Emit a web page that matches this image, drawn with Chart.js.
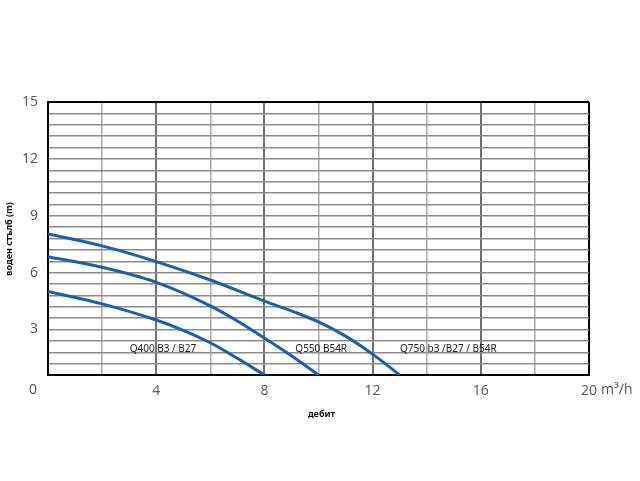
<!DOCTYPE html>
<html lang="bg">
<head>
<meta charset="UTF-8">
<title>Pump curves</title>
<script src="https://cdn.jsdelivr.net/npm/chart.js"></script>
<style>
    * {
        padding: 0;
        margin: 0;
    }
    body {
        background-color: #ffffff;
    }
</style>
</head>
<body>
<canvas id="pumpChart" width="640" height="481"></canvas>
<script>
// debit (m3/h) and head (m)
const flowQ400 = [0, 2, 4, 5, 6, 7, 8];
const headQ400 = [5.0, 4.35, 3.5, 2.96, 2.3, 1.48, 0.6];
const flowQ550 = [0, 2, 4, 6, 7, 8, 9, 10];
const headQ550 = [6.84, 6.28, 5.49, 4.25, 3.45, 2.55, 1.62, 0.6];
const flowQ750 = [0, 2, 4, 6, 8, 9, 10, 11, 12, 13];
const headQ750 = [8.04, 7.41, 6.58, 5.61, 4.5, 3.98, 3.4, 2.65, 1.7, 0.6];

const curveNames = ['Q400 B3 / B27', 'Q550 B54R', 'Q750 b3 /B27 / B54R'];
const nameFlow = [4.25, 10.1, 14.8];
const nameHead = [1.97, 1.97, 1.97];

const yTickLabels = [3, 6, 9, 12, 15];
const xTickLabels = [4, 8, 12, 16, 20];

const blue = '#1b5fa5';

const toPoints = (xs, ys) => xs.map((x, i) => ({ x: x, y: ys[i] }));

const makeSet = (name, xs, ys) => ({
    label: name,
    data: toPoints(xs, ys),
    borderColor: blue,
    borderWidth: 3,
    pointRadius: 0,
    cubicInterpolationMode: 'monotone',
    fill: false
});

// labels and axis titles drawn on top
const textPlugin = {
    id: 'textPlugin',
    afterDatasetsDraw(chart) {
        const ctx = chart.ctx;
        const xs = chart.scales.x;
        const ys = chart.scales.y;
        ctx.save();
        ctx.fillStyle = '#222';
        ctx.font = '10px "Noto Sans"';
        ctx.textAlign = 'center';
        ctx.textBaseline = 'middle';
        curveNames.forEach((n, i) => {
            ctx.fillText(n, xs.getPixelForValue(nameFlow[i]), ys.getPixelForValue(nameHead[i]));
        });

        // corner zero and unit
        ctx.fillStyle = '#555';
        ctx.font = '14px "Open Sans"';
        ctx.fillText('0', xs.left - 15, ys.bottom + 15);
        ctx.textAlign = 'left';
        ctx.fillText('m\u00B3/h', xs.right + 12, ys.bottom + 15);

        // axis titles
        ctx.fillStyle = '#111';
        ctx.font = 'bold 9px "Noto Sans"';
        ctx.textAlign = 'center';
        ctx.fillText('дебит', (xs.left + xs.right) / 2 + 3, 414);
        ctx.translate(9, 239);
        ctx.rotate(-Math.PI / 2);
        ctx.fillText('воден стълб (m)', 0, 0);
        ctx.restore();
    }
};

const ctx = document.getElementById('pumpChart').getContext('2d');
const pumpChart = new Chart(ctx, {
    type: 'line',
    data: {
        datasets: [
            makeSet(curveNames[0], flowQ400, headQ400),
            makeSet(curveNames[1], flowQ550, headQ550),
            makeSet(curveNames[2], flowQ750, headQ750)
        ]
    },
    options: {
        responsive: false,
        animation: false,
        layout: {
            padding: { top: 102, right: 51, bottom: 0, left: 0 }
        },
        plugins: {
            legend: { display: false },
            tooltip: { enabled: false }
        },
        scales: {
            x: {
                type: 'linear',
                min: 0,
                max: 20,
                afterFit: (s) => { s.height = 106; },
                afterBuildTicks: (s) => {
                    s.ticks = [];
                    for (let v = 0; v <= 20; v += 2) s.ticks.push({ value: v });
                },
                ticks: {
                    padding: 8,
                    color: '#555',
                    font: { family: 'Open Sans', size: 14 },
                    maxRotation: 0,
                    autoSkip: false,
                    callback: (v) => xTickLabels.includes(v) ? String(v) : ''
                },
                grid: {
                    drawTicks: false,
                    color: (c) => c.tick.value === 20 ? '#000' : (c.tick.value % 4 === 0 ? '#6f6f6f' : '#a8a8a8'),
                    lineWidth: (c) => c.tick.value % 4 === 0 ? 2 : 1.5
                },
                border: { color: '#000', width: 2 }
            },
            y: {
                type: 'linear',
                position: 'left',
                min: 0.6,
                max: 15,
                afterFit: (s) => { s.width = 48; },
                afterBuildTicks: (s) => {
                    s.ticks = [];
                    for (let i = 1; i <= 25; i++) s.ticks.push({ value: Math.round(i * 6) / 10 });
                },
                ticks: {
                    padding: 10,
                    color: '#555',
                    font: { family: 'Open Sans', size: 14 },
                    autoSkip: false,
                    callback: (v) => yTickLabels.includes(v) ? String(v) : ''
                },
                grid: {
                    drawTicks: false,
                    color: (c) => c.tick.value === 15 ? '#000' : '#8a8a8a',
                    lineWidth: (c) => c.tick.value === 15 ? 2 : 1.5
                },
                border: { color: '#000', width: 2 }
            }
        }
    },
    plugins: [textPlugin]
});
</script>
</body>
</html>
